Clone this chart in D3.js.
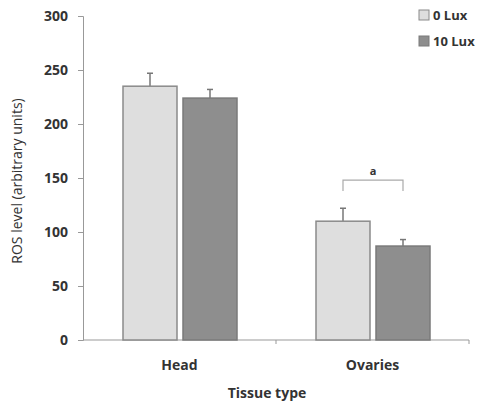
<!DOCTYPE html>
<html>
<head>
<meta charset="utf-8">
<script src="https://cdn.jsdelivr.net/npm/d3@7"></script>
<style>
  body { margin: 0; background: #fff; }
  text { font-family: "Open Sans", sans-serif; font-weight: bold; fill: #333; }
</style>
</head>
<body>
<svg id="chart"></svg>
<script>
var width = 484, height = 403

// data
var tissues = ["Head", "Ovaries"]
var groups = ["0 Lux", "10 Lux"]
var lux0 = [235, 110]
var lux10 = [224, 87]
var err0 = [12, 12]
var err10 = [8, 6]
var yTicks = [0, 50, 100, 150, 200, 250, 300]
var colors = ["#dedede", "#8e8e8e"]
var strokes = ["#8a8a8a", "#7a7a7a"]

var margin = {top: 16, right: 16, bottom: 63, left: 83}

var svg = d3.select("#chart")
    .attr("width", width)
    .attr("height", height)

var g = svg.append("g")
    .attr("transform", "translate(" + margin.left + "," + margin.top + ")")

var h = height - margin.top - margin.bottom

var x = d3.scaleBand()
    .domain(tissues)
    .range([0, 386])

var x1 = d3.scaleBand()
    .domain(groups)
    .range([40, 154])
    .paddingInner(0.1)

var y = d3.scaleLinear()
    .domain([0, 300])
    .range([h, 0])

// y axis
var yAxis = g.append("g")
    .call(d3.axisLeft(y).tickValues(yTicks).tickSize(5).tickPadding(10))
yAxis.select(".domain").attr("stroke", "#999")
yAxis.selectAll(".tick line").attr("stroke", "#999")
yAxis.selectAll(".tick text")
    .style("font-size", "14px")
    .attr("fill", "#333")

// x axis, ticks at category boundaries
var xAxis = g.append("g")
    .attr("transform", "translate(0," + h + ")")
xAxis.append("line")
    .attr("x1", 0).attr("x2", 386)
    .attr("stroke", "#999")
xAxis.selectAll("line.tk")
    .data(tissues)
    .enter()
    .append("line")
        .attr("class", "tk")
        .attr("x1", function(d) { return x(d) + x.bandwidth() })
        .attr("x2", function(d) { return x(d) + x.bandwidth() })
        .attr("y1", 0).attr("y2", 4)
        .attr("stroke", "#999")
xAxis.selectAll("text")
    .data(tissues)
    .enter()
    .append("text")
        .attr("x", function(d) { return x(d) + x.bandwidth() / 2 })
        .attr("y", 30)
        .attr("text-anchor", "middle")
        .style("font-size", "14px")
        .text(function(d) { return d })

// bars
var rows = []
tissues.forEach(function(t, i) {
    rows.push({tissue: t, group: groups[0], value: lux0[i], err: err0[i], k: 0})
    rows.push({tissue: t, group: groups[1], value: lux10[i], err: err10[i], k: 1})
})

// error bars (drawn first so the bar covers the lower half)
var eb = g.selectAll("g.err")
    .data(rows)
    .enter()
    .append("g")
        .attr("class", "err")
        .attr("transform", function(d) {
            return "translate(" + (x(d.tissue) + x1(d.group) + x1.bandwidth() / 2) + ",0)"
        })
eb.append("line")
    .attr("y1", function(d) { return y(d.value) })
    .attr("y2", function(d) { return y(d.value + d.err) })
    .attr("stroke", "#777")
    .attr("stroke-width", 1.5)
eb.append("line")
    .attr("x1", -3).attr("x2", 3)
    .attr("y1", function(d) { return y(d.value + d.err) })
    .attr("y2", function(d) { return y(d.value + d.err) })
    .attr("stroke", "#777")
    .attr("stroke-width", 1.5)

g.selectAll("rect.bar")
    .data(rows)
    .enter()
    .append("rect")
        .attr("class", "bar")
        .attr("x", function(d) { return x(d.tissue) + x1(d.group) })
        .attr("y", function(d) { return y(d.value) })
        .attr("width", x1.bandwidth())
        .attr("height", function(d) { return h - y(d.value) })
        .attr("fill", function(d) { return colors[d.k] })
        .attr("stroke", function(d) { return strokes[d.k] })
        .attr("stroke-width", 1.5)

// significance bracket over Ovaries
var bx0 = x("Ovaries") + x1(groups[0]) + x1.bandwidth() / 2
var bx1 = x("Ovaries") + x1(groups[1]) + x1.bandwidth() / 2
var byTop = y(148), byBot = y(138)
g.append("path")
    .attr("d", "M" + bx0 + "," + byBot + "V" + byTop + "H" + bx1 + "V" + byBot)
    .attr("fill", "none")
    .attr("stroke", "#aaa")
    .attr("stroke-width", 1.2)
g.append("text")
    .attr("x", (bx0 + bx1) / 2)
    .attr("y", byTop - 5)
    .attr("text-anchor", "middle")
    .style("font-size", "11px")
    .text("a")

// axis titles
svg.append("text")
    .attr("transform", "translate(22," + (margin.top + h / 2 + 3) + ") rotate(-90)")
    .attr("text-anchor", "middle")
    .style("font-size", "14px")
    .style("font-weight", "normal")
    .text("ROS level (arbitrary units)")

svg.append("text")
    .attr("x", 267)
    .attr("y", 398)
    .attr("text-anchor", "middle")
    .style("font-size", "14px")
    .text("Tissue type")

// legend
var legend = svg.append("g")
    .attr("transform", "translate(419,10)")
var li = legend.selectAll("g")
    .data(groups)
    .enter()
    .append("g")
        .attr("transform", function(d, i) { return "translate(0," + (i * 26) + ")" })
li.append("rect")
    .attr("width", 10).attr("height", 10)
    .attr("fill", function(d, i) { return colors[i] })
    .attr("stroke", function(d, i) { return strokes[i] })
li.append("text")
    .attr("x", 14)
    .attr("y", 10)
    .style("font-size", "13px")
    .text(function(d) { return d })
</script>
</body>
</html>
